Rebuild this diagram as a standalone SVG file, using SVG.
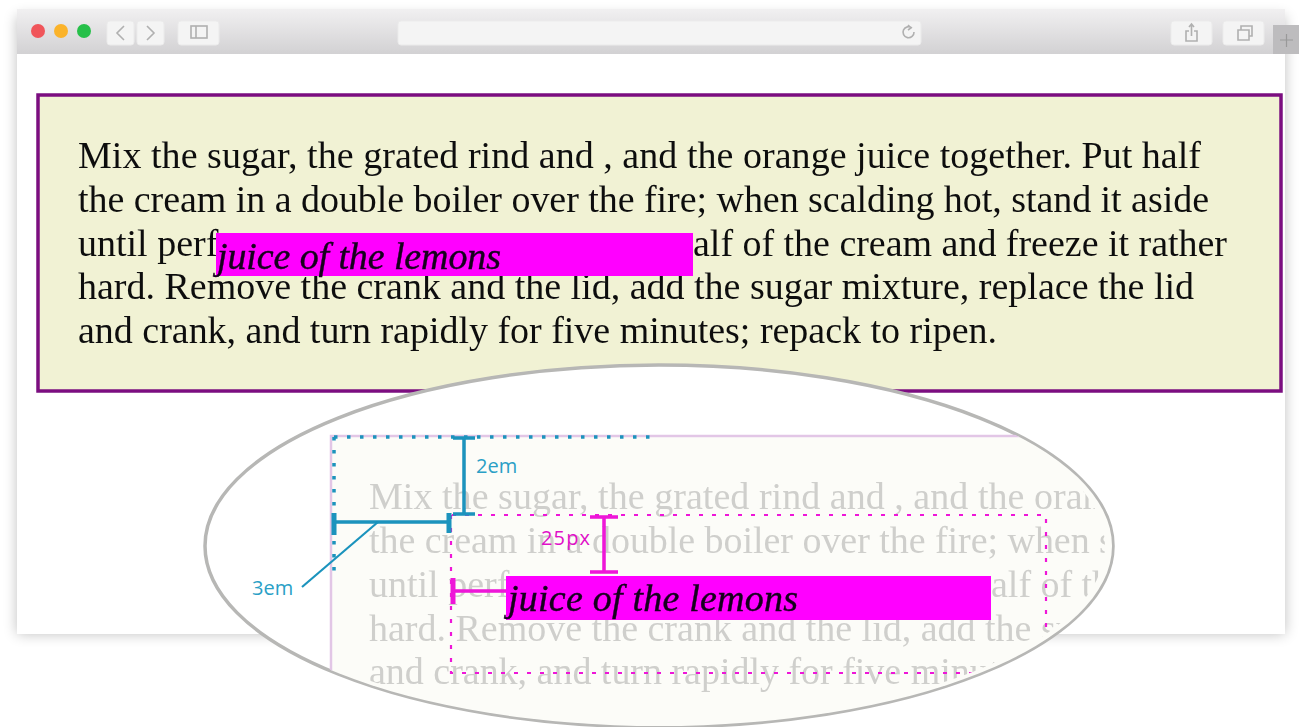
<svg xmlns="http://www.w3.org/2000/svg" width="1302" height="727" viewBox="0 0 1302 727">
<style>
.body{font-family:"Liberation Serif","Times New Roman",serif;font-size:38px;fill:#111}
.ghost{font-family:"Liberation Serif","Times New Roman",serif;font-size:38px;fill:#cfcfcc}
.it{font-family:"Liberation Serif","Times New Roman",serif;font-size:38px;font-style:italic;fill:#14001c;stroke:#14001c;stroke-width:.4}
.lbl{font-family:"Open Sans","Noto Sans",sans-serif;font-size:20px}
.btn{fill:#f4f4f4;stroke:#ebebeb;stroke-width:1}
.ico{fill:none;stroke:#b0b0b0;stroke-width:1.6}
.teal{stroke:#1a93bd;fill:none}
.pink{stroke:#ee16d8;fill:none}
</style>
<defs>
<linearGradient id="bar" x1="0" y1="0" x2="0" y2="1"><stop offset="0" stop-color="#f1f0f1"/><stop offset="1" stop-color="#d2d1d3"/></linearGradient>
<filter id="sh" x="-5%" y="-5%" width="110%" height="112%"><feGaussianBlur stdDeviation="7"/></filter>
<filter id="soft" x="-2%" y="-2%" width="104%" height="104%"><feGaussianBlur stdDeviation="0.6"/></filter>
<clipPath id="lens"><ellipse cx="659" cy="546" rx="453" ry="180"/></clipPath>
<clipPath id="lens-text"><ellipse cx="659" cy="546" rx="446" ry="177"/></clipPath>
</defs>
<rect width="1302" height="727" fill="#fff"/>
<g id="window" filter="url(#soft)">
<rect x="17" y="16" width="1268" height="618" fill="#000" opacity=".25" filter="url(#sh)"/>
<rect x="17" y="9" width="1268" height="625" fill="#fff"/>
<rect x="17" y="9" width="1268" height="45" fill="url(#bar)"/>
<circle cx="38" cy="31" r="7" fill="#f0555a"/>
<circle cx="61" cy="31" r="7" fill="#fbb32c"/>
<circle cx="84" cy="31" r="7" fill="#27c04a"/>
<rect class="btn" x="107" y="21" width="27" height="24" rx="3"/>
<rect class="btn" x="137" y="21" width="27" height="24" rx="3"/>
<rect class="btn" x="178" y="21" width="41" height="24" rx="3"/>
<path class="ico" d="M124 26l-7 7 7 7M147 26l7 7-7 7"/>
<rect class="ico" x="191" y="26" width="16" height="12"/>
<path class="ico" d="M196 26v12"/>
<rect class="btn" x="398" y="21" width="523" height="24" rx="3"/>
<path class="ico" d="M912 28a5.500 5.500 0 1 0 2 4M908 25l3 3-3 2"/>
<rect class="btn" x="1171" y="21" width="41" height="24" rx="3"/>
<rect class="btn" x="1223" y="21" width="41" height="24" rx="3"/>
<path class="ico" d="M1189 31h-3v10h11v-10h-3M1191.500 36v-12M1189 27l2.500-3 2.500 3"/>
<path class="ico" d="M1238 30h11v10h-11zM1241 30v-4h11v10h-3"/>
<rect x="1273" y="25" width="26" height="29" fill="#bdbcbe"/>
<path d="M1280 40h13M1286.500 34v13" stroke="#999" stroke-width="1.200"/>
</g>
<g id="page-box" filter="url(#soft)">
<rect x="38" y="95" width="1243" height="296" fill="#f1f2d4" stroke="#7b0f80" stroke-width="3.500"/>
<text class="body" x="78" y="168" textLength="1123">Mix the sugar, the grated rind and , and the orange juice together. Put half</text>
<text class="body" x="78" y="212" textLength="1131">the cream in a double boiler over the fire; when scalding hot, stand it aside</text>
<text class="body" x="78" y="256">until perf</text>
<text class="body" x="693" y="256" textLength="534">alf of the cream and freeze it rather</text>
<text class="body" x="78" y="299" textLength="1116">hard. Remove the crank and the lid, add the sugar mixture, replace the lid</text>
<text class="body" x="78" y="343" textLength="919">and crank, and turn rapidly for five minutes; repack to ripen.</text>
<rect x="216" y="233" width="477" height="43" fill="#ff00ff"/>
<text class="it" x="217" y="269" textLength="284">juice of the lemons</text>
</g>
<g id="lens-view" filter="url(#soft)">
<ellipse cx="659" cy="546" rx="454" ry="181" fill="#fff" stroke="#b7b7b5" stroke-width="3.500"/>
<g clip-path="url(#lens)">
<rect x="331" y="436" width="900" height="320" fill="#fcfcf8" stroke="#e2c6e6" stroke-width="2.500"/>
</g>
<g clip-path="url(#lens-text)">
<text class="ghost" x="369" y="509" textLength="1123">Mix the sugar, the grated rind and , and the orange juice together. Put half</text>
<text class="ghost" x="369" y="553" textLength="1131">the cream in a double boiler over the fire; when scalding hot, stand it aside</text>
<text class="ghost" x="369" y="597">until perf</text>
<text class="ghost" x="991" y="597" textLength="534">alf of the cream and freeze it rather</text>
<text class="ghost" x="369" y="641" textLength="1116">hard. Remove the crank and the lid, add the sugar mixture, replace the lid</text>
<text class="ghost" x="369" y="684" textLength="919">and crank, and turn rapidly for five minutes; repack to ripen.</text>
<path d="M334 437H650M334 437V572" stroke="#1a93bd" stroke-width="3.500" stroke-dasharray="3.500 9.500" fill="none"/>
<path d="M452 515H1046V645M451 515V673H1046" stroke="#ee16d8" stroke-width="2.200" stroke-dasharray="4 9" fill="none"/>
<rect x="506" y="576" width="485" height="44" fill="#ff00ff"/>
<text class="it" x="508" y="611" textLength="290">juice of the lemons</text>
</g>
</g>
<g id="connectors" filter="url(#soft)">
<path class="teal" stroke-width="3.500" d="M464 438V514M453 438H475M453 514H475M334 522H449"/>
<path class="teal" stroke-width="5" d="M334 513V535M449 513V533"/>
<path class="teal" stroke-width="2.200" d="M378 522L302 587"/>
<path class="pink" stroke-width="3.500" d="M604 517V572M590 517H618M590 572H618M453 591H506"/>
<path class="pink" stroke-width="5" d="M453 578V604"/>
</g>
<g id="label-2em"><text class="lbl" x="476" y="473" fill="#2a9fc6">2em</text></g>
<g id="label-3em"><text class="lbl" x="252" y="595" fill="#2a9fc6">3em</text></g>
<g id="label-25px"><text class="lbl" x="541" y="545" fill="#e010c8" textLength="49">25px</text></g>
</svg>
